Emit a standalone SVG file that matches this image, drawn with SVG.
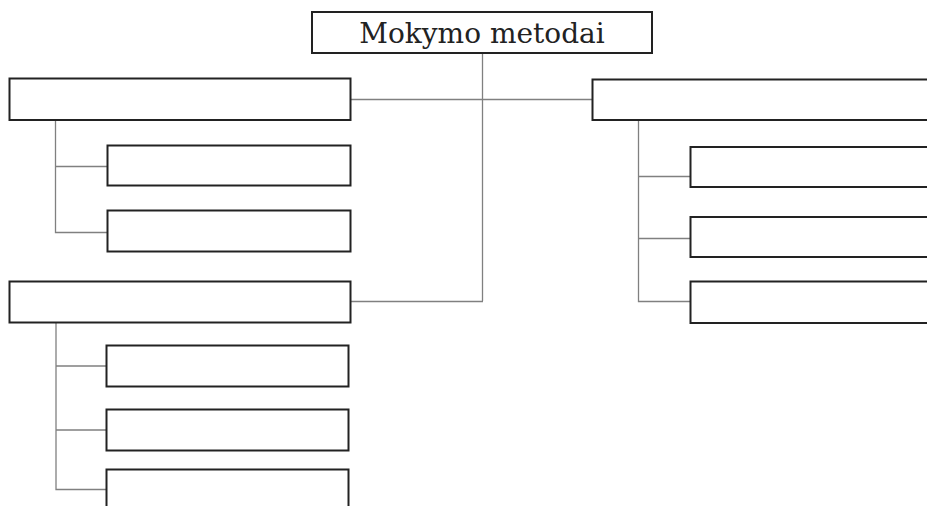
<svg xmlns="http://www.w3.org/2000/svg" width="927" height="506" viewBox="0 0 927 506">
<style>
.box{fill:#fff;stroke:#222;stroke-width:2}
.con{fill:none;stroke:#808080;stroke-width:1.3}
.title{font-family:"DejaVu Serif","Liberation Serif",serif;font-size:28px;fill:#222}
</style>
<rect width="927" height="506" fill="#fff"/>
<g id="connectors">
<path class="con" d="M482.5 53V301M351 99.5H592M351 301.5H483"/>
<path class="con" d="M55.5 120V232.5H107M55.5 166.5H107"/>
<path class="con" d="M56 322V489.5H106M56 366H106M56 430H106"/>
<path class="con" d="M638.5 120V301.5H690M638.5 176.5H690M638.5 238.5H690"/>
</g>
<g id="root"><rect class="box" x="312" y="12" width="340" height="41"/><text class="title" x="482" y="43" text-anchor="middle">Mokymo metodai</text></g>
<g id="left1"><rect class="box" x="9.5" y="78.5" width="341" height="41.5"/></g>
<g id="left1a"><rect class="box" x="107.5" y="145.5" width="243" height="40"/></g>
<g id="left1b"><rect class="box" x="107.5" y="210.5" width="243" height="41"/></g>
<g id="left2"><rect class="box" x="9.5" y="281.5" width="341" height="41"/></g>
<g id="left2a"><rect class="box" x="106.5" y="345.5" width="242" height="41"/></g>
<g id="left2b"><rect class="box" x="106.5" y="409.5" width="242" height="41"/></g>
<g id="left2c"><rect class="box" x="106.5" y="469.5" width="242" height="60"/></g>
<g id="right1"><rect class="box" x="592.5" y="79.5" width="360" height="40.5"/></g>
<g id="right1a"><rect class="box" x="690.5" y="147" width="260" height="40"/></g>
<g id="right1b"><rect class="box" x="690.5" y="217" width="260" height="40"/></g>
<g id="right1c"><rect class="box" x="690.5" y="281.5" width="260" height="41.5"/></g>
</svg>
